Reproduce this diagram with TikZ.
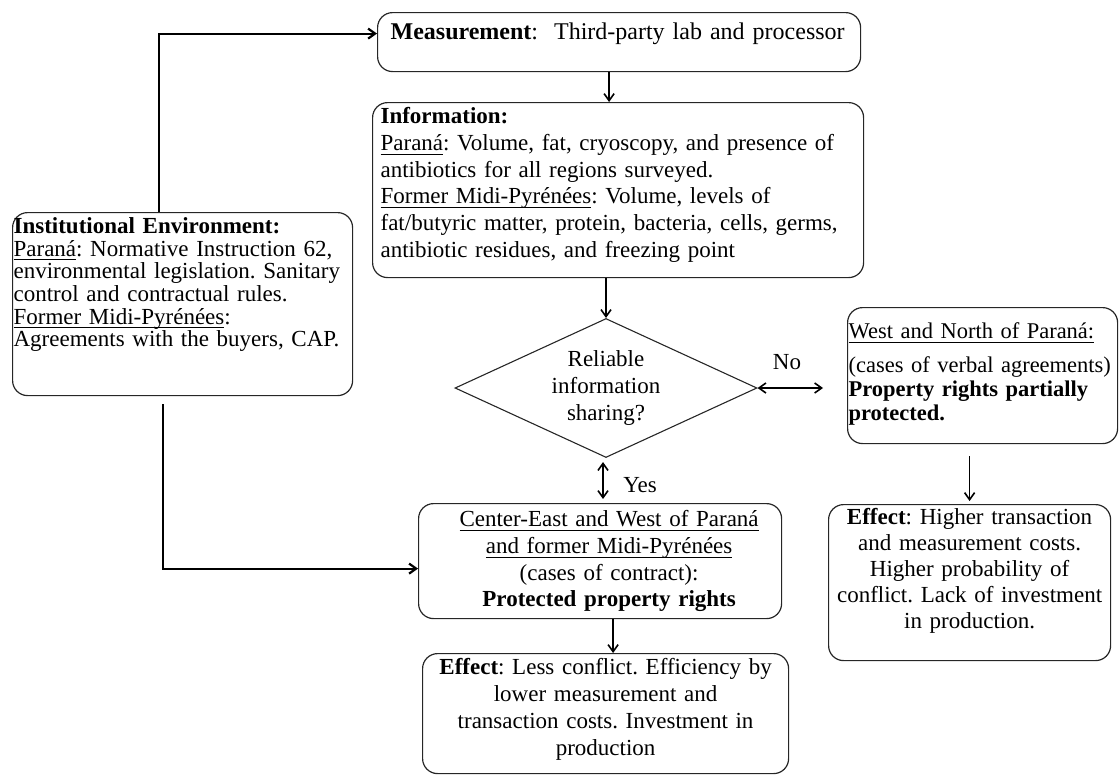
\documentclass[tikz,border=0pt]{standalone}
\usepackage{fontspec}
\setmainfont{Liberation Serif}
\usetikzlibrary{shapes.geometric,arrows.meta,positioning}
\newcommand{\uln}[1]{\underline{\smash{#1}\rule[-2pt]{0pt}{0pt}}}
\frenchspacing

\begin{document}
\begin{tikzpicture}[
    x=1pt, y=-1pt,
    boxnode/.style={draw=black!85, line width=1.2pt, rounded corners=15pt, anchor=north west, inner ysep=0pt},
    decnode/.style={draw=black!85, line width=1.1pt, diamond, aspect=2.17, minimum width=302pt, minimum height=139pt, inner sep=0pt, align=center, font=\fontsize{23}{26.7}\selectfont},
    lblnode/.style={font=\fontsize{23}{26}\selectfont},
    flow/.style={line width=1.6pt, -{Straight Barb[length=7pt,width=10pt]}},
    twoway/.style={line width=1.6pt, {Straight Barb[length=7pt,width=10pt]}-{Straight Barb[length=7pt,width=10pt]}},
    elbow/.style={line width=2.2pt, -{Straight Barb[length=7pt,width=10pt]}}
]
\useasboundingbox (0,0) rectangle (1119,774);
% Top boxes
\node[boxnode, align=left, text width=457pt, inner xsep=13pt, text height=27pt, text depth=32pt,
      font=\fontsize{24}{26.7}\selectfont] (meas) at (377,12)
    {\textbf{Measurement}:\ \ Third-party lab and processor};
\node[boxnode, align=left, text width=475pt, inner xsep=8pt, text height=21pt, text depth=154pt,
      font=\fontsize{23}{26.7}\selectfont] (info) at (372,102)
    {\textbf{Information:}\\
     \uln{Paraná}: Volume, fat, cryoscopy, and presence of\\
     antibiotics for all regions surveyed.\\
     \uln{Former Midi-Pyrénées}: Volume, levels of\\
     fat/butyric matter, protein, bacteria, cells, germs,\\
     antibiotic residues, and freezing point};
% Institutional environment
\node[boxnode, align=left, text width=338pt, inner xsep=1pt, text height=21pt, text depth=162pt,
      font=\fontsize{23}{22.6}\selectfont] (inst) at (12,212)
    {\textbf{Institutional Environment:}\\
     \uln{Paraná}: Normative Instruction 62,\\
     environmental legislation. Sanitary\\
     control and contractual rules.\\
     \uln{Former Midi-Pyrénées}:\\
     Agreements with the buyers, CAP.};
% Decision
\node[decnode] (dec) at (606,388) {Reliable\\information\\sharing?};
\node[lblnode] (nolbl) at (787,362) {No};
\node[lblnode] (yeslbl) at (640,485) {Yes};
% Outcome boxes
\node[boxnode, align=left, text width=268pt, inner xsep=1pt, text height=31pt, text depth=105pt,
      font=\fontsize{22.5}{24}\selectfont] (rbox) at (847,307)
    {\uln{West and North of Paraná:}\\[10pt]
     (cases of verbal agreements)\\
     \textbf{Property rights partially}\\
     \textbf{protected.}};
\node[boxnode, align=center, text width=355pt, inner xsep=4pt, text height=23pt, text depth=92pt,
      font=\fontsize{23}{26.7}\selectfont] (cbox) at (418,503)
    {\hspace*{18pt}\uln{Center-East and West of Paraná}\\
     \hspace*{18pt}\uln{and former Midi-Pyrénées}\\
     \hspace*{18pt}(cases of contract):\\
     \hspace*{18pt}\textbf{Protected property rights}};
\node[boxnode, align=center, text width=358pt, inner xsep=4pt, text height=21pt, text depth=99pt,
      font=\fontsize{23}{27}\selectfont] (ceff) at (422,653)
    {\textbf{Effect}: Less conflict. Efficiency by\\
     lower measurement and\\
     transaction costs. Investment in\\
     production};
\node[boxnode, align=center, text width=274pt, inner xsep=4pt, text height=20pt, text depth=136pt,
      font=\fontsize{23}{26}\selectfont] (reff) at (828,504)
    {\textbf{Effect}: Higher transaction\\
     and measurement costs.\\
     Higher probability of\\
     conflict. Lack of investment\\
     in production.};
% Connectors
\draw[flow] ([xshift=-10pt]meas.south) -- ([xshift=-10pt]meas.south |- info.north);
\draw[flow] (info.south -| dec.north) -- (dec.north);
\draw[twoway, shorten >=24pt] (dec.east) -- (dec.east -| rbox.west);
\draw[twoway, shorten <=4pt, shorten >=4pt] ([xshift=-3pt]dec.south) -- ([xshift=-3pt]dec.south |- cbox.north);
\draw[flow, shorten <=12pt, shorten >=3pt] (rbox.south -| reff.north) -- (reff.north);
\draw[flow] ([xshift=13pt]cbox.south) -- ([xshift=13pt]cbox.south |- ceff.north);
\draw[elbow] ([xshift=-24pt]inst.north) |- ([yshift=8.5pt]meas.west);
\draw[elbow] ([xshift=-20pt,yshift=-8pt]inst.south) |- ([yshift=-7.5pt]cbox.west);
\end{tikzpicture}
\end{document}
